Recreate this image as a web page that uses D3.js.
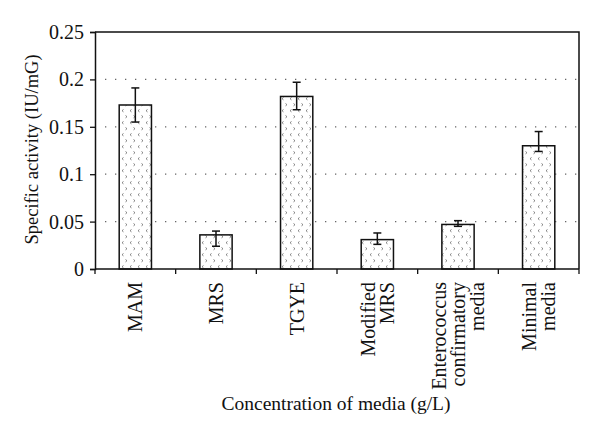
<!DOCTYPE html>
<html><head><meta charset="utf-8">
<script src="https://cdn.jsdelivr.net/npm/d3@7"></script>
<style>body{margin:0;background:#fff}</style>
</head><body>
<svg id="c" width="600" height="436"></svg>
<script>
const categories = [["MAM"],["MRS"],["TGYE"],["Modified","MRS"],["Enterococcus","confirmatory","media"],["Minimal","media"]];
const values = [0.173, 0.036, 0.182, 0.031, 0.047, 0.130];
const errUpper = [0.191, 0.040, 0.197, 0.038, 0.051, 0.145];
const errLower = [0.155, 0.024, 0.168, 0.026, 0.045, 0.124];
const yTicks = [0, 0.05, 0.1, 0.15, 0.2, 0.25];
const yTickLabels = ["0","0.05","0.1","0.15","0.2","0.25"];
const yTitle = "Specific activity (IU/mG)";
const xTitle = "Concentration of media (g/L)";

const svg = d3.select("#c");
const m = {l:95, r:21, t:32, b:167};
const W = 600, H = 436;
const font = "'Liberation Serif', 'DejaVu Serif', serif";

const x = d3.scaleBand().domain(d3.range(categories.length)).range([m.l, W-m.r]).padding(0);
const y = d3.scaleLinear().domain([0,0.25]).range([H-m.b, m.t]);

// pattern
const defs = svg.append("defs");
const pat = defs.append("pattern").attr("id","chev").attr("patternUnits","userSpaceOnUse")
  .attr("width",8).attr("height",12);
pat.append("rect").attr("width",8).attr("height",12).attr("fill","#fff");
pat.append("path").attr("d","M3.5,1.5 L2,2.7 L3.5,3.9").attr("fill","none").attr("stroke","#666").attr("stroke-width",0.8);
pat.append("path").attr("d","M5.5,7.5 L7,8.7 L5.5,9.9").attr("fill","none").attr("stroke","#666").attr("stroke-width",0.8);

// gridlines
svg.append("g").selectAll("line").data(yTicks.filter(d=>d>0 && d<0.25)).join("line")
  .attr("x1", m.l+10).attr("x2", W-m.r).attr("y1", d=>y(d)).attr("y2", d=>y(d))
  .attr("stroke","#666").attr("stroke-width",1.2).attr("stroke-dasharray","1.3,8.7");

// bars
const bw = x.bandwidth()*0.4;
svg.append("g").selectAll("rect").data(values).join("rect")
  .attr("x",(d,i)=>x(i)+x.bandwidth()/2-bw/2).attr("width",bw)
  .attr("y",d=>y(d)).attr("height",d=>y(0)-y(d))
  .attr("fill","url(#chev)").attr("stroke","#111").attr("stroke-width",1.5);

// error bars
const eg = svg.append("g").attr("stroke","#111").attr("stroke-width",1.5);
values.forEach((v,i)=>{
  const cx = x(i)+x.bandwidth()/2;
  eg.append("line").attr("x1",cx).attr("x2",cx).attr("y1",y(errUpper[i])).attr("y2",y(errLower[i]));
  eg.append("line").attr("x1",cx-4).attr("x2",cx+4).attr("y1",y(errUpper[i])).attr("y2",y(errUpper[i]));
  eg.append("line").attr("x1",cx-4).attr("x2",cx+4).attr("y1",y(errLower[i])).attr("y2",y(errLower[i]));
});

// box top/right
svg.append("path").attr("d",`M${m.l},${m.t}H${W-m.r}V${H-m.b}`).attr("fill","none").attr("stroke","#111").attr("stroke-width",1.5);

// y axis
const ya = svg.append("g").attr("transform",`translate(${m.l},0)`)
  .call(d3.axisLeft(y).tickValues(yTicks).tickFormat((d,i)=>yTickLabels[i]).tickSizeOuter(0).tickSize(5).tickPadding(6));
ya.select(".domain").attr("stroke","#111").attr("stroke-width",1.5);
ya.selectAll(".tick line").attr("stroke","#111").attr("stroke-width",1.3);
ya.selectAll("text").attr("font-family",font).attr("font-size",20).attr("fill","#111");

// x axis: ticks at band boundaries
const xa = svg.append("g").attr("transform",`translate(0,${H-m.b})`);
const bounds = d3.range(categories.length+1).map(i => i<categories.length ? x(i) : x(i-1)+x.bandwidth());
xa.append("line").attr("x1",m.l).attr("x2",W-m.r).attr("stroke","#111").attr("stroke-width",1.5);
xa.selectAll(".bt").data(bounds).join("line").attr("class","bt")
  .attr("x1",d=>d).attr("x2",d=>d).attr("y1",0).attr("y2",5).attr("stroke","#111").attr("stroke-width",1.3);

// x labels
categories.forEach((lines,i)=>{
  const cx = x(i)+x.bandwidth()/2;
  const n = lines.length, lh = 19;
  lines.forEach((t,j)=>{
    const off = (j-(n-1)/2)*lh;
    svg.append("text").attr("transform",`translate(${cx+off+7},${H-m.b+13}) rotate(-90)`)
      .attr("text-anchor","end").attr("font-family",font).attr("font-size",20).attr("fill","#111").text(t);
  });
});

// titles
svg.append("text").attr("transform",`translate(38,${(m.t+H-m.b)/2 - 1}) rotate(-90)`)
  .attr("text-anchor","middle").attr("font-family",font).attr("font-size",18.5).attr("fill","#111").text(yTitle);
svg.append("text").attr("x",(m.l+W-m.r)/2 - 1).attr("y",410)
  .attr("text-anchor","middle").attr("font-family",font).attr("font-size",19.5).attr("fill","#111").text(xTitle);
</script>
</body></html>
